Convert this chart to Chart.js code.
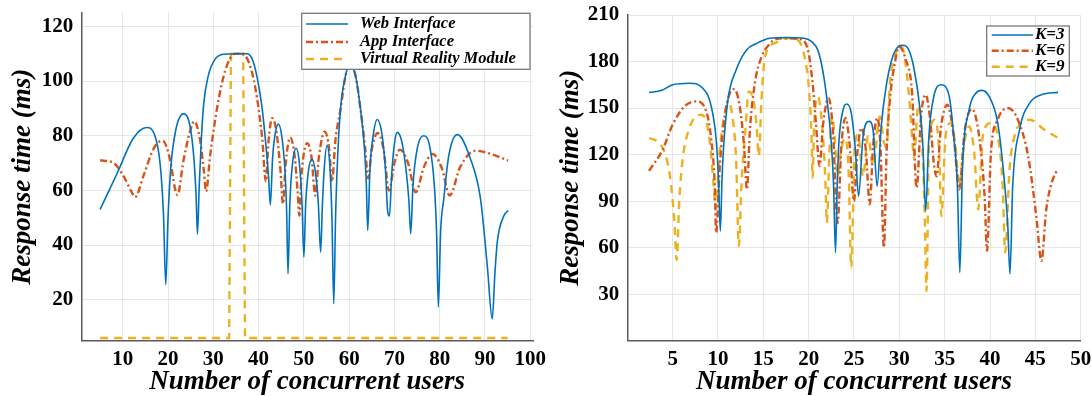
<!DOCTYPE html>
<html>
<head>
<meta charset="utf-8">
<script src="https://cdn.jsdelivr.net/npm/chart.js@4.4.1/dist/chart.umd.min.js"></script>
<style>
  html, body { margin: 0; padding: 0; background: #fff; }
  #wrap { position: relative; width: 1092px; height: 396px; overflow: hidden; }
  canvas { position: absolute; top: 0; }
  #usersChart { left: 0; }
  #kChart { left: 546px; }
</style>
</head>
<body>
<div id="wrap">
  <canvas id="usersChart" width="560" height="396"></canvas>
  <canvas id="kChart" width="546" height="396"></canvas>
</div>
<script>
// ---- left panel: response time per interface ----
const usersTicks = [10, 20, 30, 40, 50, 60, 70, 80, 90, 100];
const msTicksLeft = [20, 40, 60, 80, 100, 120];

const webX = [5, 8.7, 12.3, 15.3, 17, 18.3, 19, 19.5, 20, 20.6, 21.7, 23.4, 24.8, 25.7, 26.2, 26.5, 26.9, 27.4, 27.9, 28.9, 30.4, 32.3, 35, 37.4, 38.5, 39.6, 40.8, 41.7, 42.2, 42.6, 43.1, 43.7, 44.4, 45.1, 45.8, 46.2, 46.5, 46.9, 47.5, 48.3, 49, 49.6, 50, 50.4, 51, 51.8, 52.6, 53.2, 53.7, 54.1, 54.5, 55.1, 55.7, 56.2, 56.6, 57, 57.4, 58.1, 59.2, 60.1, 61.4, 62.5, 63.4, 63.8, 64.1, 64.6, 65.3, 66.2, 67.2, 68, 68.5, 68.9, 69.4, 70, 70.6, 71.6, 72.6, 73.2, 73.6, 74.1, 75, 76.4, 77.8, 78.8, 79.3, 79.7, 80.2, 80.9, 82, 83.9, 86.8, 89, 90.5, 91.6, 92.2, 92.7, 94.2, 95.1];
const webY = [53, 66, 79, 83, 80.5, 69, 51, 25.5, 50, 68, 82, 88, 84, 72, 58, 44, 62, 80, 92, 102, 108, 109.8, 110, 110, 108.4, 102, 89.8, 75, 65, 54.7, 72, 81, 84.3, 80, 68, 52, 29.5, 55, 70, 75.4, 70, 55, 35.6, 55, 67, 71.5, 66, 55, 37.4, 55, 68, 76.4, 70, 50, 18.5, 50, 70, 89.8, 102, 106, 102, 89.8, 75, 62, 45.3, 68, 80, 85.9, 81, 68, 52.5, 50.6, 66, 77, 81.2, 78, 67, 56, 44.1, 62, 75, 80, 76, 62, 45, 17.3, 45, 56.9, 72.7, 80.4, 71.5, 57, 32.5, 13, 30, 41, 50.8, 52.6];

const appX = [5, 8, 10.1, 12, 12.7, 14.6, 16.8, 18.8, 20.5, 21.5, 22.1, 23.4, 24.9, 25.8, 27.1, 27.95, 28.4, 29.3, 30.8, 32.3, 33.7, 34.7, 36.3, 37.8, 39.3, 40.8, 41.6, 42.2, 43, 43.9, 44.8, 45.4, 46, 47, 48, 48.6, 49, 49.5, 50.7, 51.7, 52.5, 53.3, 54.6, 55.6, 56.2, 57, 58.1, 59.2, 60.1, 61.4, 62.5, 63.5, 64.2, 65, 66.3, 67.6, 68.8, 70, 71.2, 73, 74.7, 76.5, 78.4, 80.5, 82.2, 84.5, 87.9, 91, 95.1];
const appY = [71, 70, 65.4, 59.3, 57.5, 65.4, 75.2, 78.2, 70.8, 61, 58.3, 70.8, 81.8, 85.3, 78.2, 66.6, 59.6, 72.7, 89.8, 101.9, 108.3, 110, 110, 107, 97.3, 79, 63.2, 78, 86.4, 82, 68, 55.1, 70, 79.4, 72, 60, 50.8, 66, 77.3, 72, 58.1, 72, 81.5, 75, 63.2, 78.8, 89.8, 102, 106, 102, 89.8, 76, 64.4, 75, 81, 75, 59.9, 70, 74.9, 70, 59.3, 68.5, 73.3, 68, 58.1, 68.5, 74.5, 73.5, 70.9];

const vrX = [5, 33.5, 33.9, 36.6, 37, 95];
const vrY = [6, 6, 110, 110, 6, 6];

// ---- right panel: response time per K ----
const kUsersTicks = [5, 10, 15, 20, 25, 30, 35, 40, 45, 50];
const msTicksRight = [30, 60, 90, 120, 150, 180, 210];

const k3X = [2.4, 3.8, 5, 6.85, 8.3, 9.26, 9.8, 10.05, 10.26, 10.45, 10.6, 11.1, 12, 13.15, 14.2, 15.7, 17.5, 19.5, 20.4, 21, 21.5, 21.93, 22.5, 22.75, 22.96, 23.15, 23.33, 23.8, 24.2, 24.7, 25.15, 25.5, 26, 26.67, 27.1, 27.55, 28, 28.6, 29.15, 29.7, 30.35, 31, 31.6, 32.3, 32.6, 32.9, 33.26, 33.8, 34.63, 35.5, 36, 36.4, 36.67, 36.96, 37.7, 38.44, 39.1, 39.9, 40.85, 41.6, 41.95, 42.2, 42.5, 43.26, 44.37, 45.67, 47.5];
const k3Y = [160, 161.5, 165, 166, 162.9, 151, 129.6, 105, 70.7, 105, 123, 155.4, 174.6, 187.5, 191.5, 195, 195.5, 195, 192.5, 187.5, 176, 159.6, 127.5, 100, 56.8, 100, 127.5, 149, 152.6, 146.8, 123.2, 93.2, 131.8, 141.4, 136, 99.6, 138.2, 166, 181, 188.5, 190.5, 188, 176, 148, 125, 83.6, 131.8, 157.5, 165, 157.5, 131.8, 100, 43.9, 110.4, 148.9, 159.6, 161.4, 157.5, 140.4, 101.8, 75, 43, 99.6, 136, 153.2, 158.6, 160.1];

const k6X = [2.4, 3.9, 5, 6.3, 7.6, 8.7, 9.26, 9.63, 9.8, 10.2, 10.74, 11.3, 11.8, 12.4, 12.85, 13.2, 13.5, 14.07, 14.8, 15.5, 16.4, 17.5, 19, 19.9, 20.44, 20.8, 21.2, 21.6, 22.2, 22.67, 23.2, 23.6, 24.07, 24.5, 25, 25.35, 25.8, 26.3, 26.74, 27.1, 27.55, 27.9, 28.3, 28.6, 28.96, 29.5, 29.95, 30.7, 31.4, 31.9, 32.4, 32.9, 33.4, 33.8, 34.1, 34.6, 35.3, 36, 36.6, 37.2, 38, 38.8, 39.4, 39.67, 40.1, 40.85, 42, 43.07, 44.2, 45.1, 45.67, 46.2, 46.8, 47.33];
const k6Y = [109.5, 123.2, 139.3, 151, 154.3, 147.9, 129.6, 101.8, 69.6, 112.5, 144.6, 159.6, 162.2, 151, 127.5, 97.5, 134, 166, 183, 190, 194.5, 195, 194.5, 187.9, 166, 140.4, 112.6, 140, 156.4, 136, 76, 125, 143.6, 127.5, 90, 120, 137.1, 123.2, 87.9, 125, 143.6, 127.5, 60, 123.2, 155.4, 179, 189.6, 181.4, 159.9, 98.6, 145, 158.6, 142.5, 114.6, 106, 138, 152.1, 131.8, 97.5, 135, 149.4, 131.8, 93.2, 57.9, 121, 142.5, 150, 142.5, 119, 80.4, 51.4, 84.6, 101.8, 109.3];

const k9X = [2.4, 3.5, 4.26, 4.8, 5.2, 5.44, 5.74, 6.1, 6.67, 7.4, 8.15, 8.7, 9.15, 9.5, 9.74, 10.2, 10.74, 11.2, 11.7, 12, 12.3, 12.6, 13, 13.4, 13.9, 14.26, 14.5, 14.8, 15.2, 16.4, 17.5, 18.6, 19.5, 20.07, 20.3, 20.44, 20.6, 21, 21.55, 21.85, 22, 22.3, 22.6, 22.85, 23.2, 23.5, 24, 24.4, 24.7, 25.07, 25.44, 26, 26.55, 27.1, 27.85, 28.3, 28.6, 28.96, 29.5, 30.1, 30.5, 31.1, 31.45, 31.6, 32.1, 32.5, 32.8, 33, 33.26, 33.9, 34.4, 34.63, 35.1, 35.67, 36.2, 36.6, 37.1, 37.7, 38.26, 38.7, 39.2, 40.1, 40.85, 41.4, 41.67, 42.15, 42.7, 43.44, 44.37, 46, 47.5];
const k9Y = [130.7, 127.5, 119, 101.8, 76, 52, 91, 116.8, 134, 143.6, 145.7, 141.4, 125.4, 101.8, 85, 123, 146.8, 153, 140, 116.8, 61, 101.8, 134, 160.7, 155.4, 138.2, 119, 155.4, 183.5, 192.2, 195, 194.5, 184.3, 159.6, 134, 105, 138, 157.5, 134, 102, 76, 123, 144.6, 132, 106, 120, 130.7, 110, 47, 123.2, 132.9, 106, 131.8, 112.5, 144.6, 128, 125, 166, 183, 190, 185.7, 155.6, 127.7, 118, 152, 130, 80, 32, 125.4, 142.5, 121, 80.4, 131.8, 140.4, 125, 100, 125, 138.2, 121, 84.6, 131.8, 140.4, 131.8, 99.6, 56.8, 110.4, 131.8, 140.4, 142.5, 136, 130.7];

const pts = (xs, ys) => xs.map((x, i) => ({ x: x, y: ys[i] }));

const SERIF = "'Liberation Serif', 'Times New Roman', serif";
const BLUE = '#0072BD', RED = '#D95319', GOLD = '#EDB120';

// legend drawn over the data, inside the plot
function boxLegend(box) {
  return {
    id: 'boxLegend',
    afterDraw(chart) {
      const ctx = chart.ctx;
      ctx.save();
      ctx.fillStyle = '#fff';
      ctx.fillRect(box.x, box.y, box.w, box.h);
      ctx.strokeStyle = '#6e6e6e';
      ctx.lineWidth = 1.2;
      ctx.strokeRect(box.x, box.y, box.w, box.h);
      ctx.font = box.font;
      ctx.textBaseline = 'middle';
      chart.data.datasets.forEach((ds, i) => {
        const y = box.rows[i];
        ctx.strokeStyle = ds.borderColor;
        ctx.lineWidth = ds.borderWidth;
        ctx.setLineDash(ds.borderDash || []);
        ctx.beginPath();
        ctx.moveTo(box.lx0, y);
        ctx.lineTo(box.lx1, y);
        ctx.stroke();
        ctx.setLineDash([]);
        ctx.fillStyle = '#000';
        ctx.fillText(ds.label, box.tx, y);
      });
      ctx.restore();
    }
  };
}

function scales(o) {
  const tickFont = { family: SERIF, size: 21, weight: 'bold' };
  return {
    x: {
      type: 'linear', min: o.xMin, max: o.xMax,
      afterBuildTicks: s => { s.ticks = o.xTicks.map(v => ({ value: v })); },
      afterFit: s => { s.height = 55.3; s.paddingLeft = 0; s.paddingRight = 0; },
      grid: { color: '#e6e6e6', drawTicks: false },
      border: { color: '#5a5a5a', width: 1.5 },
      ticks: { font: tickFont, color: '#000', padding: 6, maxRotation: 0 },
      title: { display: true, text: 'Number of concurrent users', color: '#000',
               font: { family: SERIF, size: 27, weight: 'bold', style: 'italic', lineHeight: 1 },
               padding: { top: 0, bottom: 0 } }
    },
    y: {
      type: 'linear', min: o.yMin, max: o.yMax,
      afterBuildTicks: s => { s.ticks = o.yTicks.map(v => ({ value: v })); },
      afterFit: s => { s.width = 81.3; s.paddingTop = 0; s.paddingBottom = 0; },
      grid: { color: '#e6e6e6', drawTicks: false },
      border: { color: '#5a5a5a', width: 1.5 },
      ticks: { font: tickFont, color: '#000', padding: 8 },
      title: { display: true, text: 'Response time (ms)', color: '#000',
               font: { family: SERIF, size: 27, weight: 'bold', style: 'italic', lineHeight: 1 },
               padding: { top: o.yPad, bottom: 0 } }
    }
  };
}

const lineOpts = { pointRadius: 0, cubicInterpolationMode: 'monotone', fill: false };

new Chart(document.getElementById('usersChart'), {
  type: 'line',
  data: {
    datasets: [
      { label: 'Web Interface', data: pts(webX, webY), borderColor: BLUE, borderWidth: 1.6, ...lineOpts },
      { label: 'App Interface', data: pts(appX, appY), borderColor: RED, borderWidth: 2.4, borderDash: [7, 3, 2, 3], ...lineOpts },
      { label: 'Virtual Reality Module', data: pts(vrX, vrY), borderColor: GOLD, borderWidth: 2.4, borderDash: [8, 6], pointRadius: 0, fill: false }
    ]
  },
  options: {
    responsive: false, animation: false, devicePixelRatio: 1,
    layout: { padding: { left: 0, right: 27, top: 12.7, bottom: 0 } },
    plugins: { legend: { display: false }, tooltip: { enabled: false } },
    scales: scales({ xMin: 0.85, xMax: 100.6, xTicks: usersTicks, yMin: 5, yMax: 125, yTicks: msTicksLeft, yPad: 10 })
  },
  plugins: [boxLegend({ x: 301.7, y: 13.3, w: 228.3, h: 56, rows: [24, 42, 59], lx0: 306, lx1: 348, tx: 360,
                        font: 'italic bold 16.5px ' + SERIF })]
});

new Chart(document.getElementById('kChart'), {
  type: 'line',
  data: {
    datasets: [
      { label: 'K=3', data: pts(k3X, k3Y), borderColor: BLUE, borderWidth: 1.6, ...lineOpts },
      { label: 'K=6', data: pts(k6X, k6Y), borderColor: RED, borderWidth: 2.4, borderDash: [7, 3, 2, 3], ...lineOpts },
      { label: 'K=9', data: pts(k9X, k9Y), borderColor: GOLD, borderWidth: 2.4, borderDash: [8, 6], ...lineOpts }
    ]
  },
  options: {
    responsive: false, animation: false, devicePixelRatio: 1,
    layout: { padding: { left: 0, right: 11.3, top: 15, bottom: 0 } },
    plugins: { legend: { display: false }, tooltip: { enabled: false } },
    scales: scales({ xMin: 0, xMax: 50, xTicks: kUsersTicks, yMin: 0, yMax: 210, yTicks: msTicksRight, yPad: 12 })
  },
  plugins: [boxLegend({ x: 440.7, y: 26, w: 82.6, h: 50, rows: [35, 50.7, 66.7], lx0: 445.7, lx1: 487, tx: 489,
                        font: 'italic bold 17px ' + SERIF })]
});
</script>
</body>
</html>
